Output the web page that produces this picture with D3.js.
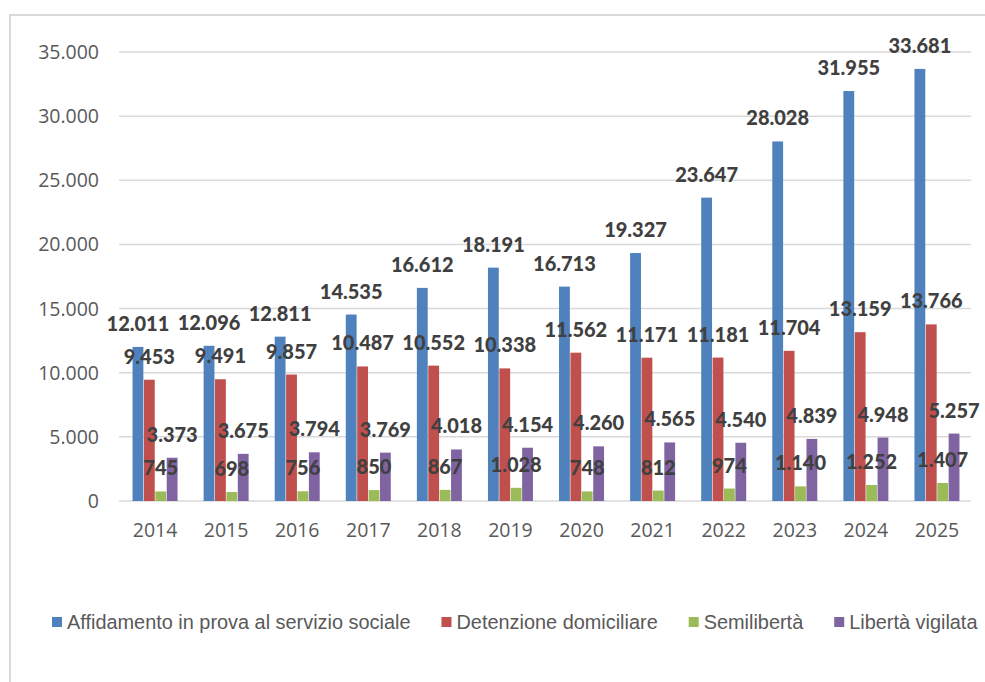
<!DOCTYPE html>
<html>
<head>
<meta charset="utf-8">
<script src="https://cdn.jsdelivr.net/npm/d3@7"></script>
<style>
  body { margin: 0; background: #fff; }
</style>
</head>
<body>
<div id="chart"></div>
<script>
const width = 985;
const height = 682;

// data
const years = ["2014", "2015", "2016", "2017", "2018", "2019", "2020", "2021", "2022", "2023", "2024", "2025"];
const seriesNames = ["Affidamento in prova al servizio sociale", "Detenzione domiciliare", "Semilibertà", "Libertà vigilata"];
const affidamento = [12011, 12096, 12811, 14535, 16612, 18191, 16713, 19327, 23647, 28028, 31955, 33681];
const detenzione = [9453, 9491, 9857, 10487, 10552, 10338, 11562, 11171, 11181, 11704, 13159, 13766];
const semiliberta = [745, 698, 756, 850, 867, 1028, 748, 812, 974, 1140, 1252, 1407];
const libertaVigilata = [3373, 3675, 3794, 3769, 4018, 4154, 4260, 4565, 4540, 4839, 4948, 5257];
const yTicks = [0, 5000, 10000, 15000, 20000, 25000, 30000, 35000];
const colors = ["#4F81BD", "#C0504D", "#9BBB59", "#8064A2"];

const seriesValues = [affidamento, detenzione, semiliberta, libertaVigilata];

const it = d3.formatLocale({ decimal: ",", thousands: ".", grouping: [3], currency: ["", " €"] });
const fmt = it.format(",d");

const svg = d3.select("#chart")
  .append("svg")
  .attr("width", width)
  .attr("height", height);

// outer frame
svg.append("rect")
  .attr("x", 10)
  .attr("y", 15)
  .attr("width", 1000)
  .attr("height", 700)
  .attr("fill", "none")
  .attr("stroke", "#d9d9d9")
  .attr("stroke-width", 2);

const x0 = d3.scaleBand().domain(years).range([119.5, 972.5]);
const groupW = 45;
const x1 = d3.scaleBand().domain(d3.range(4)).range([0, groupW]).paddingInner(0.05);
const y = d3.scaleLinear().domain([0, 35000]).range([501, 52]);

// gridlines
svg.append("g")
  .selectAll("line")
  .data(yTicks)
  .join("line")
  .attr("x1", 119)
  .attr("x2", 971)
  .attr("y1", d => y(d))
  .attr("y2", d => y(d))
  .attr("stroke", "#d9d9d9")
  .attr("stroke-width", 1.5);

// y labels
svg.append("g")
  .selectAll("text")
  .data(yTicks)
  .join("text")
  .attr("x", 99)
  .attr("y", d => y(d))
  .attr("dy", "0.36em")
  .attr("text-anchor", "end")
  .attr("font-family", "'Open Sans', sans-serif")
  .attr("font-size", 19.5)
  .attr("fill", "#595959")
  .text(d => fmt(d));

// x labels
svg.append("g")
  .selectAll("text")
  .data(years)
  .join("text")
  .attr("x", d => x0(d) + x0.bandwidth() / 2)
  .attr("y", 537)
  .attr("text-anchor", "middle")
  .attr("font-family", "'Open Sans', sans-serif")
  .attr("font-size", 19.5)
  .attr("fill", "#595959")
  .text(d => d);

const barData = [];
seriesValues.forEach((vals, s) => {
  vals.forEach((v, i) => barData.push({ s, year: years[i], v }));
});

const barX = d => x0(d.year) + (x0.bandwidth() - groupW) / 2 + x1(d.s);

// bars
svg.append("g")
  .selectAll("rect")
  .data(barData)
  .join("rect")
  .attr("x", barX)
  .attr("y", d => y(d.v))
  .attr("width", x1.bandwidth())
  .attr("height", d => y(0) - y(d.v))
  .attr("fill", d => colors[d.s]);

// value labels
svg.append("g")
  .selectAll("text")
  .data(barData)
  .join("text")
  .attr("x", d => barX(d) + x1.bandwidth() / 2)
  .attr("y", d => y(d.v) - 16)
  .attr("text-anchor", "middle")
  .attr("font-family", "Lato, sans-serif")
  .attr("font-weight", 900)
  .attr("font-size", 20)
  .attr("fill", "#404040")
  .text(d => fmt(d.v));

// legend
const legend = svg.append("g");
let lx = 52;
seriesNames.forEach((name, i) => {
  legend.append("rect")
    .attr("x", lx)
    .attr("y", 617)
    .attr("width", 10)
    .attr("height", 10)
    .attr("fill", colors[i]);
  const t = legend.append("text")
    .attr("x", lx + 15)
    .attr("y", 629)
    .attr("font-family", "'Liberation Sans', Arial, sans-serif")
    .attr("font-size", 19.9)
    .attr("fill", "#595959")
    .text(name);
  lx += 15 + t.node().getComputedTextLength() + 31;
});
</script>
</body>
</html>
